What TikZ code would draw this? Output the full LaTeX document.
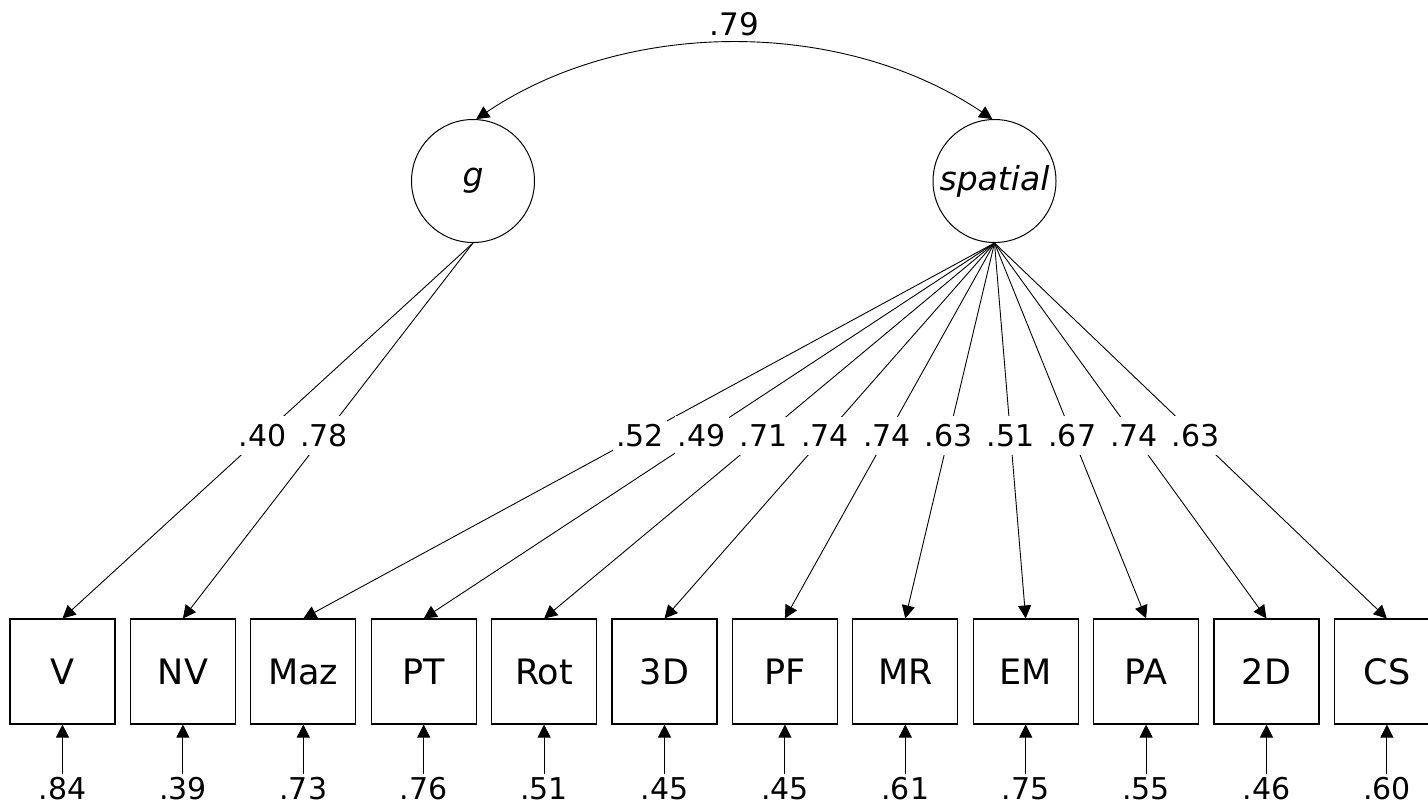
\documentclass[tikz,border=0pt]{standalone}
\usepackage{fontspec}
\setmainfont{DejaVu Sans}
\usetikzlibrary{arrows.meta}
\begin{document}
\begin{tikzpicture}[x=1pt,y=-1pt,
  latent/.style={circle,draw,line width=1pt,minimum size=123pt,inner sep=0pt,font=\fontsize{33}{38}\selectfont\itshape},
  obs/.style={rectangle,draw,line width=1.1pt,minimum width=105pt,minimum height=105pt,inner sep=0pt,font=\fontsize{35}{40}\selectfont},
  path/.style={line width=0.9pt,-{Triangle[length=13pt,width=13pt]}},
  load/.style={fill=white,inner xsep=3pt,inner ysep=8pt,font=\fontsize{30}{34}\selectfont},
  errlab/.style={inner sep=0pt,font=\fontsize{30}{34}\selectfont}
]
\useasboundingbox (0,0) rectangle (1428,807);
\node[latent] (g) at (473,181) {g};
\node[latent] (sp) at (994.5,181) {spatial};
\foreach \n [count=\i from 0] in {V,NV,Maz,PT,Rot,3D,PF,MR,EM,PA,2D,CS}{
  \node[obs] (b\i) at ({62.5+120.4*\i},671.5) {\n};
}
% correlation
\draw[line width=0.9pt,{Triangle[length=13pt,width=13pt]}-{Triangle[length=13pt,width=13pt]}]
  (g.87) .. controls +(150,-101) and +(-150,-101) .. node[above=4pt,font=\fontsize{31}{35}\selectfont] (r) {.79} (sp.92);
% g loadings
\draw[path] (g.south) -- node[load,pos=0.513] (l0) {.40} (b0.north);
\draw[path] (g.south) -- node[load,pos=0.513] (l1) {.78} (b1.north);
% spatial loadings
\foreach \i/\v in {2/.52,3/.49,4/.71,5/.74,6/.74,7/.63,8/.51,9/.67,10/.74,11/.63}{
  \draw[path] (sp.south) -- node[load,pos=0.513] (l\i) {\v} (b\i.north);
}
% errors
\foreach \i/\v in {0/.84,1/.39,2/.73,3/.76,4/.51,5/.45,6/.45,7/.61,8/.75,9/.55,10/.46,11/.60}{
  \coordinate (e\i) at ({62.5+120.4*\i},774);
  \node[errlab] (el\i) at ({62.5+120.4*\i},789) {\v};
  \draw[path] (e\i) -- (b\i.south);
}
\end{tikzpicture}
\end{document}
